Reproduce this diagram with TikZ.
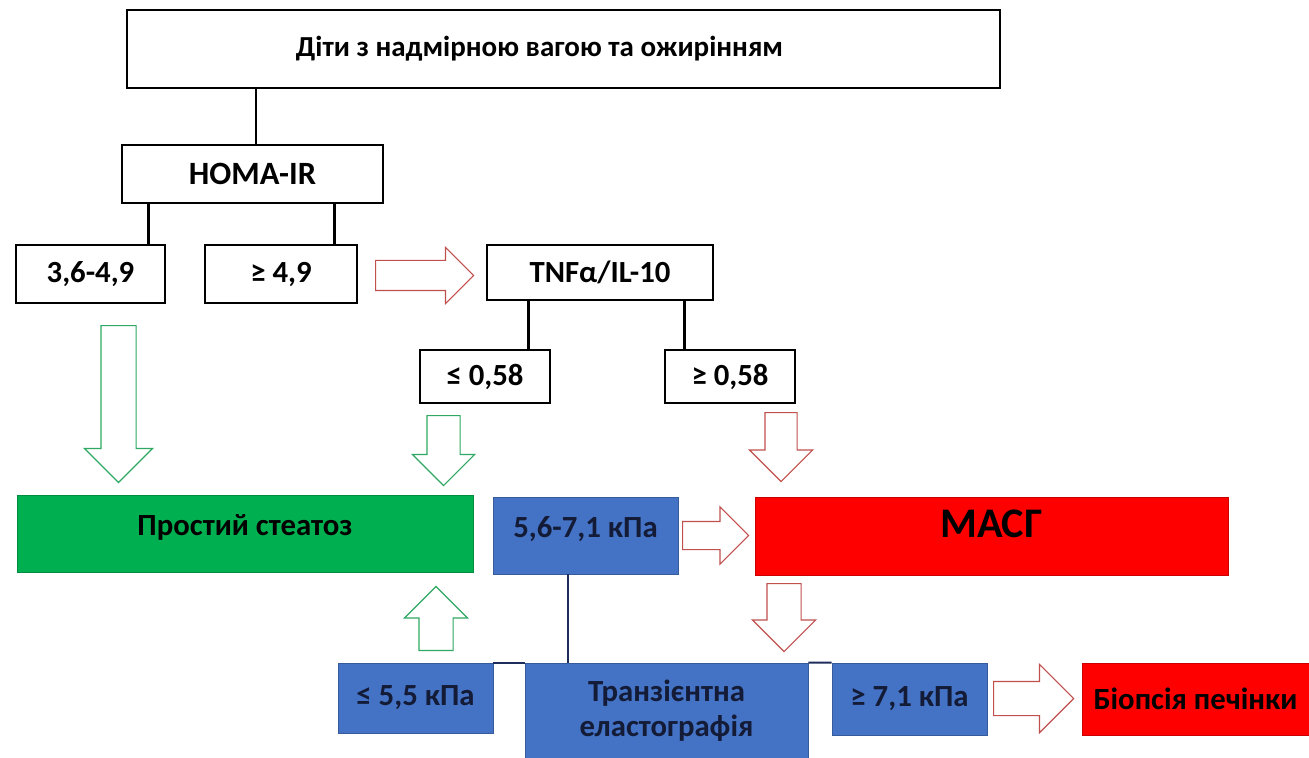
\documentclass[tikz,border=0pt]{standalone}
\usepackage{fontspec}
\setmainfont{Carlito}
\usetikzlibrary{shapes.arrows,positioning}
\definecolor{okgreen}{HTML}{00B050}
\definecolor{alarmred}{HTML}{FF0000}
\definecolor{scanblue}{HTML}{4472C4}
\definecolor{navyline}{HTML}{1F2D5A}
\definecolor{redrim}{HTML}{C0504D}
\definecolor{greenrim}{HTML}{2EA862}
\tikzstyle{block} = [draw, line width=1.6pt, rectangle, inner sep=0pt, font=\bfseries\fontsize{17.5}{20}\selectfont]
\tikzstyle{filled} = [rectangle, inner sep=0pt, font=\bfseries\fontsize{17.5}{20}\selectfont, align=center]
\tikzstyle{greenbox} = [filled, fill=okgreen, draw=okgreen!80!black, thin]
\tikzstyle{redbox} = [filled, fill=alarmred, draw=alarmred!80!black, thin]
\tikzstyle{bluebox} = [filled, fill=scanblue, draw=scanblue!80!black, thin, text=navyline!60!black]
\tikzstyle{hollow} = [single arrow, anchor=tail, fill=white, line width=0.7pt, inner xsep=0pt, single arrow tip angle=90]
\tikzstyle{hollowred} = [hollow, draw=redrim]
\tikzstyle{hollowgreen} = [hollow, draw=greenrim]
\tikzstyle{tie} = [line width=1.6pt]

\begin{document}
\begin{tikzpicture}
    \useasboundingbox (0,0) rectangle (26.18,-15.16);
    % upper tree
    \node [block, minimum width=17.46cm, minimum height=1.56cm, font=\bfseries\fontsize{16.5}{20}\selectfont] (kids) at (11.27,-0.98) {Діти з надмірною вагою та ожирінням\kern0.96cm};
    \node [block, minimum width=5.22cm, minimum height=1.16cm, font=\bfseries\fontsize{18.5}{20}\selectfont] (homa) at (5.05,-3.48) {HOMA-IR};
    \node [block, minimum width=2.98cm, minimum height=1.16cm] (homalo) at (1.81,-5.48) {3,6-4,9};
    \node [block, minimum width=3.04cm, minimum height=1.16cm] (homahi) at (5.62,-5.48) {≥ 4,9};
    \node [block, minimum width=4.52cm, minimum height=1.10cm] (tnf) at (12.0,-5.45) {TNFα/IL-10};
    \node [block, minimum width=2.6cm, minimum height=1.06cm] (tnflo) at (9.7,-7.53) {≤ 0,58};
    \node [block, minimum width=2.6cm, minimum height=1.06cm] (tnfhi) at (14.6,-7.53) {≥ 0,58};
    \draw [tie] ([xshift=2pt]homa.north) -- ([xshift=2pt]homa.north |- kids.south);
    \draw [tie] ([xshift=0.56cm]homa.south west) -- ([xshift=0.56cm]homa.south west |- homalo.north);
    \draw [tie] ([xshift=-1cm]homa.south east) -- ([xshift=-1cm]homa.south east |- homahi.north);
    \draw [tie] ([xshift=0.86cm]tnf.south west) -- ([xshift=0.86cm]tnf.south west |- tnflo.north);
    \draw [tie] ([xshift=-0.6cm]tnf.south east) -- ([xshift=-0.6cm]tnf.south east |- tnfhi.north);
    % outcomes
    \node [greenbox, minimum width=9.12cm, minimum height=1.54cm, text depth=10pt] (steat) at (4.9,-10.67) {Простий стеатоз};
    \node [bluebox, minimum width=3.7cm, minimum height=1.54cm, text depth=10pt] (mid) at (11.71,-10.71) {5,6-7,1 кПа};
    \node [redbox, minimum width=9.46cm, minimum height=1.56cm, text depth=14pt, font=\bfseries\fontsize{24}{26}\selectfont] (masg) at (19.83,-10.72) {МАСГ};
    % elastography row
    \node [bluebox, minimum width=3.1cm, minimum height=1.4cm] (kpalo) at (8.31,-13.96) {≤ 5,5 кПа};
    \node [bluebox, minimum width=5.66cm, minimum height=1.9cm] (elast) at (13.33,-14.21) {Транзієнтна\\еластографія};
    \node [bluebox, minimum width=3.1cm, minimum height=1.44cm] (kpahi) at (18.19,-13.98) {≥ 7,1 кПа};
    \node [redbox, minimum width=4.54cm, minimum height=1.44cm] (biopsy) at (23.91,-13.98) {Біопсія печінки};
    \draw [tie, navyline, line width=1.2pt] ([xshift=0.86cm]elast.north west) -- ([xshift=0.86cm]elast.north west |- mid.south);
    \draw [tie, navyline, line width=1.2pt] (kpalo.north east) -- (elast.north west);
    \draw [tie, navyline, line width=1.2pt] (elast.north east) -- (kpahi.north west);
    % hollow arrows
    \node [hollowred, minimum height=1.96cm, minimum width=1.1cm, inner ysep=0.29cm, single arrow head extend=0.26cm] (a1) at (7.5,-5.51) {};
    \node [hollowgreen, rotate=-90, minimum height=3.14cm, minimum width=1.34cm, inner ysep=0.34cm, single arrow head extend=0.33cm] (a2) at (2.37,-6.5) {};
    \node [hollowgreen, rotate=-90, minimum height=1.4cm, minimum width=1.22cm, inner ysep=0.32cm, single arrow head extend=0.29cm] (a3) at (8.87,-8.3) {};
    \node [hollowred, rotate=-90, minimum height=1.38cm, minimum width=1.24cm, inner ysep=0.31cm, single arrow head extend=0.31cm] (a4) at (15.62,-8.24) {};
    \node [hollowred, minimum height=1.32cm, minimum width=1.12cm, inner ysep=0.27cm, single arrow head extend=0.29cm] (a5) at (13.64,-10.71) {};
    \node [hollowred, rotate=-90, minimum height=1.36cm, minimum width=1.24cm, inner ysep=0.33cm, single arrow head extend=0.29cm] (a6) at (15.68,-11.66) {};
    \node [hollowgreen, rotate=90, minimum height=1.28cm, minimum width=1.24cm, inner ysep=0.33cm, single arrow head extend=0.29cm] (a7) at (8.72,-13.02) {};
    \node [hollowred, minimum height=1.6cm, minimum width=1.34cm, inner ysep=0.33cm, single arrow head extend=0.34cm] (a8) at (19.86,-13.97) {};
\end{tikzpicture}
\end{document}
